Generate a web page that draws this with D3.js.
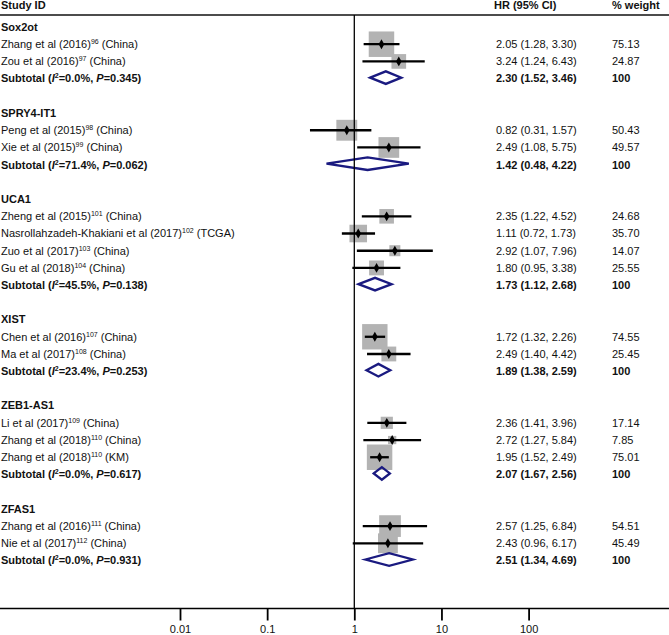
<!DOCTYPE html>
<html>
<head>
<meta charset="utf-8">
<script src="https://cdn.jsdelivr.net/npm/d3@7"></script>
<style>
  html, body { margin: 0; padding: 0; background: #fff; }
  svg { display: block; font-family: "Liberation Sans", Arial, sans-serif; }
</style>
</head>
<body>
<svg id="chart" width="669" height="635"></svg>
<script>
// ---------- data ----------
const groups = ["Sox2ot", "SPRY4-IT1", "UCA1", "XIST", "ZEB1-AS1", "ZFAS1"];

const studyGroup  = [0, 0, 1, 1, 2, 2, 2, 2, 3, 3, 4, 4, 4, 5, 5];
const studyAuthor = ["Zhang et al (2016)", "Zou et al (2016)", "Peng et al (2015)", "Xie et al (2015)",
  "Zheng et al (2015)", "Nasrollahzadeh-Khakiani et al (2017)", "Zuo et al (2017)", "Gu et al (2018)",
  "Chen et al (2016)", "Ma et al (2017)", "Li et al (2017)", "Zhang et al (2018)", "Zhang et al (2018)",
  "Zhang et al (2016)", "Nie et al (2017)"];
const studyRef    = ["96", "97", "98", "99", "101", "102", "103", "104", "107", "108", "109", "110", "110", "111", "112"];
const studyRegion = ["China", "China", "China", "China", "China", "TCGA", "China", "China", "China", "China",
  "China", "China", "KM", "China", "China"];
const studyHR     = [2.05, 3.24, 0.82, 2.49, 2.35, 1.11, 2.92, 1.80, 1.72, 2.49, 2.36, 2.72, 1.95, 2.57, 2.43];
const studyLo     = [1.28, 1.24, 0.31, 1.08, 1.22, 0.72, 1.07, 0.95, 1.32, 1.40, 1.41, 1.27, 1.52, 1.25, 0.96];
const studyHi     = [3.30, 6.43, 1.57, 5.75, 4.52, 1.73, 7.96, 3.38, 2.26, 4.42, 3.96, 5.84, 2.49, 6.84, 6.17];
const studyWeight = [75.13, 24.87, 50.43, 49.57, 24.68, 35.70, 14.07, 25.55, 74.55, 25.45, 17.14, 7.85, 75.01, 54.51, 45.49];

const subI2 = ["0.0", "71.4", "45.5", "23.4", "0.0", "0.0"];
const subP  = ["0.345", "0.062", "0.138", "0.253", "0.617", "0.931"];
const subHR = [2.30, 1.42, 1.73, 1.89, 2.07, 2.51];
const subLo = [1.52, 0.48, 1.12, 1.38, 1.67, 1.34];
const subHi = [3.46, 4.22, 2.68, 2.59, 2.56, 4.69];

const tickValues = [0.01, 0.1, 1, 10, 100];
const tickLabels = ["0.01", "0.1", "1", "10", "100"];

const headers = ["Study ID", "HR (95% CI)", "% weight"];

// ---------- layout rows ----------
const rows = [];
groups.forEach((g, gi) => {
  rows.push({ type: "group", label: g });
  studyGroup.forEach((sg, i) => {
    if (sg === gi) rows.push({ type: "study", i });
  });
  rows.push({ type: "sub", gi });
  if (gi < groups.length - 1) rows.push({ type: "blank" });
});
rows.forEach((r, k) => r.k = k);

// ---------- scales ----------
const W = 669, H = 635;
const svg = d3.select("#chart");
const x = d3.scaleLog().domain([0.01, 100]).range([180, 528.6]);
const y = d3.scaleLinear().domain([0, rows.length - 1]).range([27, 560.5]);
const side = d3.scaleSqrt().domain([0, 100]).range([0, 29.4]);

const axisY = 608.5;
const headerLineY = 15;
const fs = 11;
const txtColor = "#111";

// header
svg.append("text").attr("x", 1).attr("y", 9).attr("font-size", fs).attr("font-weight", "bold")
  .attr("fill", txtColor).text(headers[0]);
svg.append("text").attr("x", 494).attr("y", 9).attr("font-size", fs).attr("font-weight", "bold")
  .attr("fill", txtColor).text(headers[1]);
svg.append("text").attr("x", 612).attr("y", 9).attr("font-size", fs).attr("font-weight", "bold")
  .attr("fill", txtColor).text(headers[2]);
svg.append("line").attr("x1", 0).attr("x2", W).attr("y1", headerLineY).attr("y2", headerLineY)
  .attr("stroke", "#111").attr("stroke-width", 1.3);

// squares
const studyRows = rows.filter(r => r.type === "study");
svg.append("g").selectAll("rect").data(studyRows).join("rect")
  .attr("x", r => x(studyHR[r.i]) - side(studyWeight[r.i]) / 2)
  .attr("y", r => y(r.k) - side(studyWeight[r.i]) / 2)
  .attr("width", r => side(studyWeight[r.i]))
  .attr("height", r => side(studyWeight[r.i]))
  .attr("fill", "#b3b3b3");

// CI lines
svg.append("g").selectAll("line").data(studyRows).join("line")
  .attr("x1", r => x(studyLo[r.i])).attr("x2", r => x(studyHi[r.i]))
  .attr("y1", r => y(r.k)).attr("y2", r => y(r.k))
  .attr("stroke", "#000").attr("stroke-width", 2.3);

// point estimates
svg.append("g").selectAll("path").data(studyRows).join("path")
  .attr("transform", r => `translate(${x(studyHR[r.i])},${y(r.k)})`)
  .attr("d", d3.symbol(d3.symbolDiamond, 28))
  .attr("fill", "#000");

// subtotal diamonds
const subRows = rows.filter(r => r.type === "sub");
const dh = 6.3;
svg.append("g").selectAll("path").data(subRows).join("path")
  .attr("d", r => {
    const cy = y(r.k) - 1;
    const l = x(subLo[r.gi]), m = x(subHR[r.gi]), h = x(subHi[r.gi]);
    return `M${l},${cy}L${m},${cy - dh}L${h},${cy}L${m},${cy + dh}Z`;
  })
  .attr("fill", "none").attr("stroke", "#1a1a80").attr("stroke-width", 2.3)
  .attr("stroke-linejoin", "miter");

// null line
svg.append("line").attr("x1", x(1)).attr("x2", x(1)).attr("y1", headerLineY).attr("y2", axisY)
  .attr("stroke", "#000").attr("stroke-width", 1.3);

// axis
svg.append("line").attr("x1", 0).attr("x2", W).attr("y1", axisY).attr("y2", axisY)
  .attr("stroke", "#000").attr("stroke-width", 1.4);
const axis = d3.axisBottom(x).tickValues(tickValues)
  .tickFormat((d, i) => tickLabels[i]).tickSize(12).tickPadding(5);
const ag = svg.append("g").attr("transform", `translate(0,${axisY})`).call(axis);
ag.select(".domain").remove();
ag.selectAll(".tick line").attr("stroke", "#000").attr("stroke-width", 1.8);
ag.selectAll(".tick text").attr("font-size", fs).attr("fill", txtColor)
  .attr("font-family", "Liberation Sans, Arial, sans-serif");

// left labels
const labels = svg.append("g").attr("font-size", fs).attr("fill", txtColor);
rows.forEach(r => {
  if (r.type === "blank") return;
  const t = labels.append("text").attr("x", 1).attr("y", y(r.k)).attr("dy", "0.35em");
  if (r.type === "group") {
    t.attr("font-weight", "bold").text(r.label);
  } else if (r.type === "study") {
    t.append("tspan").text(studyAuthor[r.i]);
    t.append("tspan").attr("font-size", 7).attr("dy", -4).text(studyRef[r.i]);
    t.append("tspan").attr("dy", 4).text(" (" + studyRegion[r.i] + ")");
  } else {
    t.attr("font-weight", "bold");
    t.append("tspan").text("Subtotal (");
    t.append("tspan").attr("font-style", "italic").text("I");
    t.append("tspan").attr("font-size", 7).attr("dy", -4).text("2");
    t.append("tspan").attr("dy", 4).text("=" + subI2[r.gi] + "%, ");
    t.append("tspan").attr("font-style", "italic").text("P");
    t.append("tspan").text("=" + subP[r.gi] + ")");
  }
});

// right columns
const f2 = d3.format(".2f");
rows.forEach(r => {
  if (r.type === "study") {
    labels.append("text").attr("x", 496).attr("y", y(r.k)).attr("dy", "0.35em")
      .text(`${f2(studyHR[r.i])} (${f2(studyLo[r.i])}, ${f2(studyHi[r.i])})`);
    labels.append("text").attr("x", 612).attr("y", y(r.k)).attr("dy", "0.35em")
      .text(f2(studyWeight[r.i]));
  } else if (r.type === "sub") {
    labels.append("text").attr("x", 496).attr("y", y(r.k)).attr("dy", "0.35em").attr("font-weight", "bold")
      .text(`${f2(subHR[r.gi])} (${f2(subLo[r.gi])}, ${f2(subHi[r.gi])})`);
    labels.append("text").attr("x", 612).attr("y", y(r.k)).attr("dy", "0.35em").attr("font-weight", "bold")
      .text("100");
  }
});
</script>
</body>
</html>
